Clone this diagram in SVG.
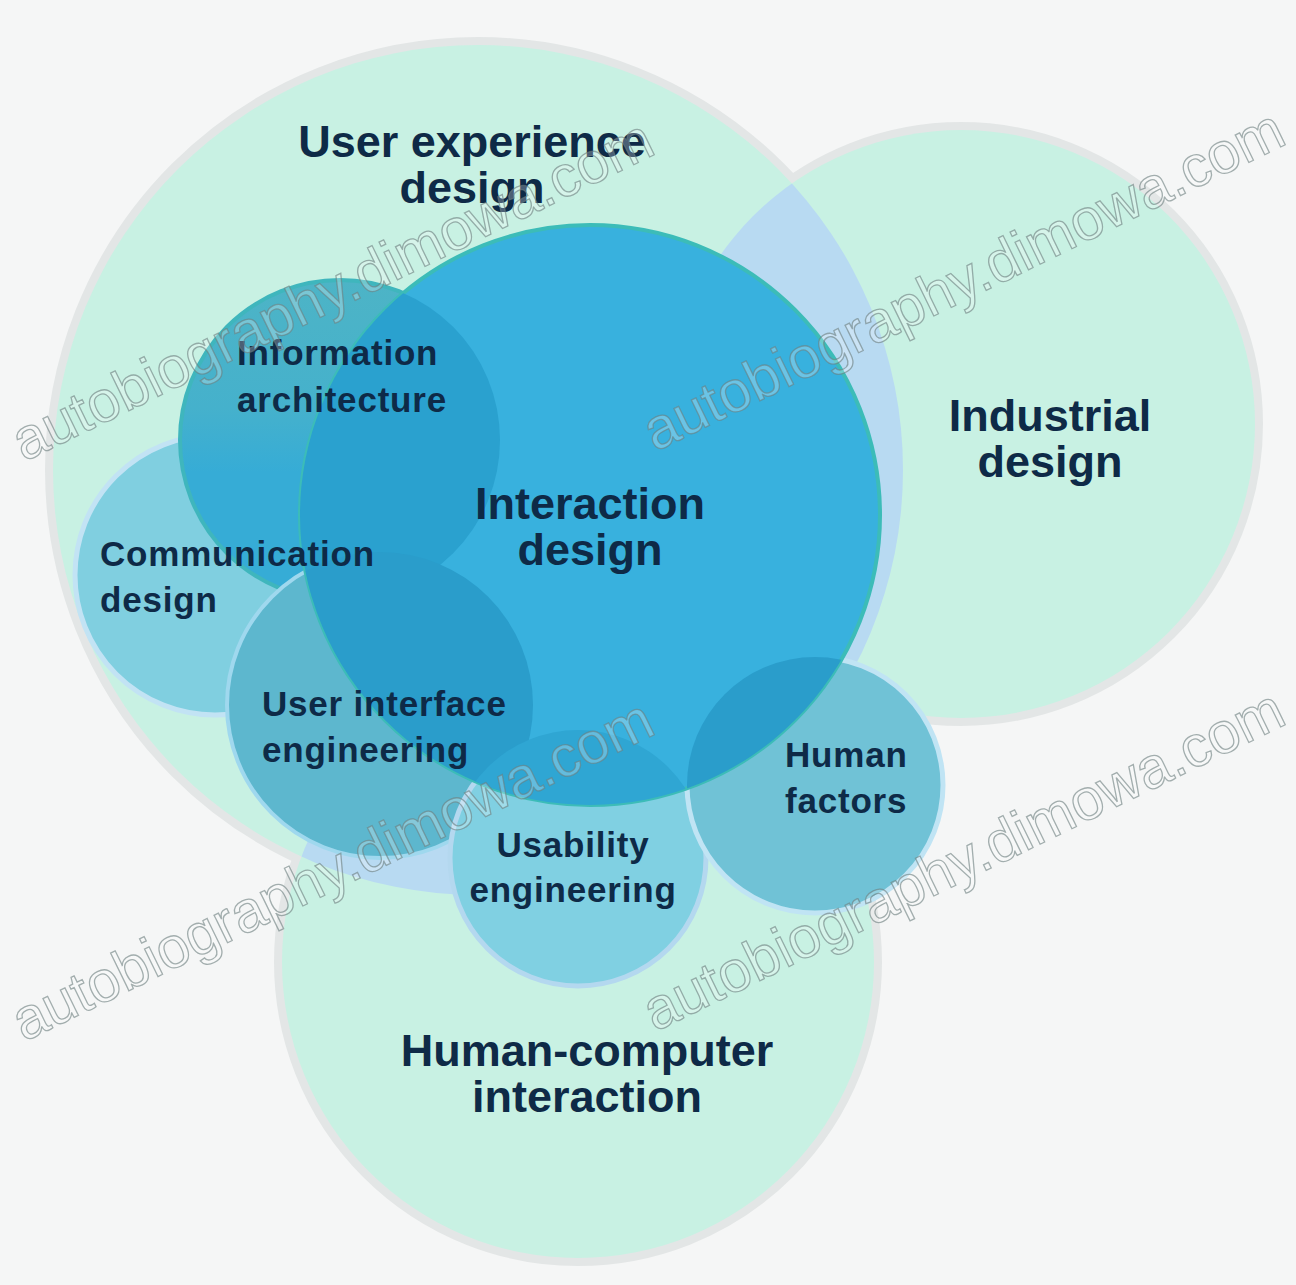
<svg xmlns="http://www.w3.org/2000/svg" width="1296" height="1285" viewBox="0 0 1296 1285">
<style>
.big{font-family:"Liberation Sans",Arial,sans-serif;font-weight:700;font-size:45px;fill:#0e2a47;text-anchor:middle}
.sm{font-family:"Liberation Sans",Arial,sans-serif;font-weight:700;font-size:35px;letter-spacing:0.8px;fill:#0e2a47}
.rim{fill:none;stroke:#e3e6e6;stroke-width:16}
.mint{fill:#c8f1e3}
.ov{fill:#b8daf2}
.wm{font-family:"Liberation Sans",Arial,sans-serif;font-size:58px;fill:#ffffff;fill-opacity:0.25;stroke:#6b7d7d;stroke-opacity:0.6;stroke-width:1.3}
</style>
<defs>
<clipPath id="cUX"><circle cx="478" cy="470" r="425"/></clipPath>
<clipPath id="cID"><circle cx="590" cy="515" r="290"/></clipPath>
<linearGradient id="gIA" x1="0" y1="0" x2="0" y2="1">
<stop offset="0" stop-color="#4db4c6"/>
<stop offset="0.4" stop-color="#45b1cc"/>
<stop offset="0.6" stop-color="#36acd6"/>
<stop offset="1" stop-color="#36acd6"/>
</linearGradient>
</defs>
<rect width="1296" height="1285" fill="#f5f6f6"/>
<g id="rims">
<circle class="rim" cx="478" cy="470" r="425"/>
<circle class="rim" cx="961" cy="424" r="294"/>
<circle class="rim" cx="578" cy="962" r="296"/>
</g>
<g id="ux-design"><circle class="mint" cx="478" cy="470" r="425"/></g>
<g id="industrial-design"><circle class="mint" cx="961" cy="424" r="294"/></g>
<g id="hci"><circle class="mint" cx="578" cy="962" r="296"/></g>
<g id="mint-overlaps" clip-path="url(#cUX)">
<circle class="ov" cx="961" cy="424" r="294"/>
<circle class="ov" cx="578" cy="962" r="296"/>
</g>
<g id="communication-design">
<circle cx="215" cy="575" r="140" fill="#80cfe0" stroke="#c2e3f4" stroke-width="5"/>
</g>
<g id="information-architecture">
<circle cx="340" cy="440" r="160" fill="url(#gIA)" stroke="#3fb6bd" stroke-width="4"/>
</g>
<g id="ui-engineering">
<circle cx="380" cy="705" r="153" fill="#5db7ce" stroke="#9fd8ee" stroke-width="4"/>
</g>
<g id="usability-engineering">
<circle cx="578" cy="858" r="128" fill="#80d0e2" stroke="#b4d8ef" stroke-width="5"/>
</g>
<g id="human-factors">
<circle cx="815" cy="785" r="128" fill="#70c2d6" stroke="#c0e4f4" stroke-width="5"/>
</g>
<g id="interaction-design">
<circle cx="590" cy="515" r="290" fill="#38b1de" stroke="#3cbcb8" stroke-width="4"/>
<g clip-path="url(#cID)">
<circle cx="340" cy="440" r="160" fill="#2aa1cf"/>
<circle cx="380" cy="705" r="153" fill="#2a9dcb"/>
<circle cx="815" cy="785" r="128" fill="#2a9dcb"/>
<circle cx="578" cy="858" r="128" fill="#2fa6d3"/>
</g>
</g>
<g id="labels">
<text class="big"><tspan x="472" y="157">User experience</tspan><tspan x="472" y="203">design</tspan></text>
<text class="big"><tspan x="1050" y="431">Industrial</tspan><tspan x="1050" y="477">design</tspan></text>
<text class="big"><tspan x="590" y="519">Interaction</tspan><tspan x="590" y="565">design</tspan></text>
<text class="big"><tspan x="587" y="1066">Human-computer</tspan><tspan x="587" y="1112">interaction</tspan></text>
<text class="sm"><tspan x="237" y="365">Information</tspan><tspan x="237" y="412">architecture</tspan></text>
<text class="sm"><tspan x="100" y="566">Communication</tspan><tspan x="100" y="612">design</tspan></text>
<text class="sm"><tspan x="262" y="716">User interface</tspan><tspan x="262" y="762">engineering</tspan></text>
<text class="sm" text-anchor="middle"><tspan x="573" y="857">Usability</tspan><tspan x="573" y="902">engineering</tspan></text>
<text class="sm"><tspan x="785" y="767">Human</tspan><tspan x="785" y="813">factors</tspan></text>
</g>
<g id="connectors"/>
<g id="watermarks">
<text class="wm" transform="translate(24,462) rotate(-26)">autobiography.dimowa.com</text>
<text class="wm" transform="translate(655,452) rotate(-26)">autobiography.dimowa.com</text>
<text class="wm" transform="translate(24,1042) rotate(-26)">autobiography.dimowa.com</text>
<text class="wm" transform="translate(655,1032) rotate(-26)">autobiography.dimowa.com</text>
</g>
</svg>
